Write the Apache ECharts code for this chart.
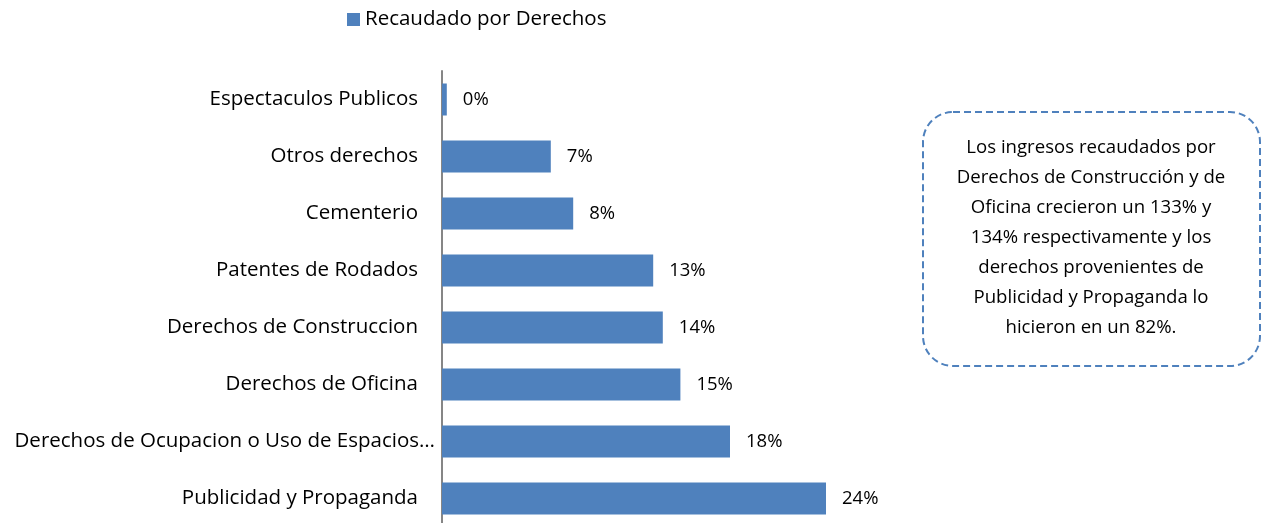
<!DOCTYPE html>
<html>
<head>
<meta charset="utf-8">
<script src="https://cdn.jsdelivr.net/npm/echarts@6/dist/echarts.min.js"></script>
<style>
html,body{margin:0;padding:0;background:#fff;}
#chart{width:1263px;height:523px;}
</style>
</head>
<body>
<div id="chart"></div>
<script>
const categories = [
  "Espectaculos Publicos",
  "Otros derechos",
  "Cementerio",
  "Patentes de Rodados",
  "Derechos de Construccion",
  "Derechos de Oficina",
  "Derechos de Ocupacion o Uso de Espacios…",
  "Publicidad y Propaganda"
];
const seriesName = "Recaudado por Derechos";
const values = [0.3, 6.8, 8.2, 13.2, 13.8, 14.9, 18.0, 24.0];
const noteLines = [
  "Los ingresos recaudados por",
  "Derechos de Construcción y de",
  "Oficina crecieron un 133% y",
  "134% respectivamente y los",
  "derechos provenientes de",
  "Publicidad y Propaganda lo",
  "hicieron en un 82%."
];

const FONT = "'Open Sans', 'Noto Sans', sans-serif";
const catData = categories.map(c => c.endsWith('…')
  ? {value: c, textStyle: {padding: [3, -17, 0, 0]}}
  : c);

const chart = echarts.init(document.getElementById('chart'), null, {renderer: 'canvas'});
chart.setOption({
  animation: false,
  backgroundColor: '#fff',
  legend: {
    data: [seriesName],
    left: 342,
    top: 4,
    icon: 'rect',
    itemWidth: 13,
    itemHeight: 13,
    itemGap: 6,
    textStyle: {fontFamily: FONT, fontSize: 20.5, color: '#000'}
  },
  grid: {left: 442, right: 21, top: 71, bottom: -4, containLabel: false, outerBoundsMode: 'none'},
  xAxis: {
    type: 'value', min: 0, max: 50, show: false
  },
  yAxis: {
    type: 'category',
    inverse: true,
    data: catData,
    axisLine: {show: true, lineStyle: {color: '#868686', width: 2}},
    axisTick: {show: false},
    axisLabel: {margin: 24, fontFamily: FONT, fontSize: 20.5, color: '#000', padding: [3, 0, 0, 0]},
    splitLine: {show: false}
  },
  series: [{
    name: seriesName,
    type: 'bar',
    data: values,
    barWidth: 32,
    itemStyle: {color: '#4f81bd'},
    label: {
      show: true,
      position: 'right',
      distance: 16,
      fontFamily: FONT,
      fontSize: 18.5,
      color: '#000',
      padding: [3, 0, 0, 0],
      formatter: p => Math.round(p.value) + '%'
    }
  }],
  graphic: [
    {
      type: 'rect',
      shape: {x: 923, y: 112, width: 337, height: 254, r: 30},
      style: {fill: 'none', stroke: '#4f81bd', lineWidth: 2, lineDash: [7, 4]}
    },
    {
      type: 'text',
      x: 1091,
      y: 133,
      style: {
        text: noteLines.join('\n'),
        font: "18.6px " + FONT,
        fill: '#000',
        align: 'center',
        verticalAlign: 'top',
        lineHeight: 30
      }
    }
  ]
});
</script>
</body>
</html>
